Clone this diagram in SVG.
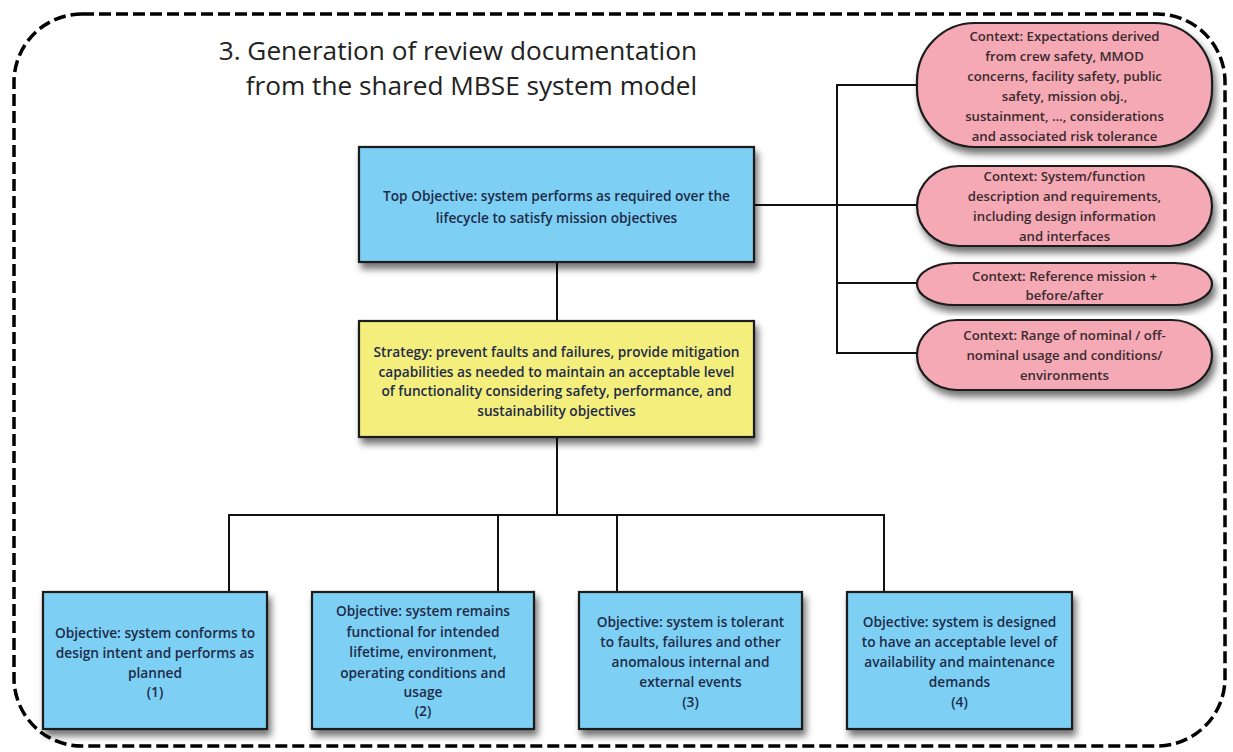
<svg xmlns="http://www.w3.org/2000/svg" width="1233" height="752" viewBox="0 0 1233 752">
<defs>
<filter id="sh" x="-10%" y="-10%" width="125%" height="135%">
<feDropShadow dx="3" dy="6" stdDeviation="3.5" flood-color="#000" flood-opacity="0.55"/>
</filter>
<style>
.blue{fill:#7dcff4;stroke:#1a1a1a;stroke-width:2.2;filter:url(#sh)}
.yel{fill:#f4ee7d;stroke:#1a1a1a;stroke-width:2.2;filter:url(#sh)}
.pink{fill:#f4a9b5;stroke:#1a1a1a;stroke-width:2.2;filter:url(#sh)}
.t{font-family:"Open Sans","Liberation Sans",sans-serif;font-size:13.7px;font-weight:600;text-anchor:middle;fill:#1e2c48}
.tp{font-family:"Open Sans","Liberation Sans",sans-serif;font-size:13.2px;font-weight:600;text-anchor:middle;fill:#3b2a2e}
.title{font-family:"Open Sans","Liberation Sans",sans-serif;font-size:26.2px;text-anchor:end;fill:#222}
.ln{fill:none;stroke:#111;stroke-width:2}
</style>
</defs>
<rect x="14" y="14" width="1211" height="732" rx="68" fill="#fff" stroke="#000" stroke-width="3.5" stroke-dasharray="12 5"/>
<g id="title">
<text class="title" x="697" y="60">3. Generation of review documentation</text>
<text class="title" x="697" y="95">from the shared MBSE system model</text>
</g>
<g id="connectors">
<path class="ln" d="M557 262V321"/>
<path class="ln" d="M557 437V515"/>
<path class="ln" d="M229 593V515H884V593"/>
<path class="ln" d="M498 515V593"/>
<path class="ln" d="M617 515V593"/>
<path class="ln" d="M754 205H918"/>
<path class="ln" d="M918 85H837V353H918"/>
<path class="ln" d="M837 283H918"/>
</g>
<g id="top-objective">
<rect class="blue" x="359" y="147" width="395" height="115"/>
<text class="t" x="556.5" y="201">Top Objective: system performs as required over the</text>
<text class="t" x="556.5" y="223">lifecycle to satisfy mission objectives</text>
</g>
<g id="strategy">
<rect class="yel" x="359" y="321" width="395" height="116"/>
<text class="t" x="556.5" y="357">Strategy: prevent faults and failures, provide mitigation</text>
<text class="t" x="556.5" y="377">capabilities as needed to maintain an acceptable level</text>
<text class="t" x="556.5" y="396">of functionality considering safety, performance, and</text>
<text class="t" x="556.5" y="416">sustainability objectives</text>
</g>
<g id="objective-1">
<rect class="blue" x="43" y="592" width="224" height="137"/>
<text class="t" x="155" y="638">Objective: system conforms to</text>
<text class="t" x="155" y="658">design intent and performs as</text>
<text class="t" x="155" y="678">planned</text>
<text class="t" x="155" y="697">(1)</text>
</g>
<g id="objective-2">
<rect class="blue" x="312" y="592" width="222" height="137"/>
<text class="t" x="423" y="616">Objective: system remains</text>
<text class="t" x="423" y="637">functional for intended</text>
<text class="t" x="423" y="657">lifetime, environment,</text>
<text class="t" x="423" y="678">operating conditions and</text>
<text class="t" x="423" y="697">usage</text>
<text class="t" x="423" y="716">(2)</text>
</g>
<g id="objective-3">
<rect class="blue" x="579" y="592" width="223" height="137"/>
<text class="t" x="690.5" y="627">Objective: system is tolerant</text>
<text class="t" x="690.5" y="647">to faults, failures and other</text>
<text class="t" x="690.5" y="667">anomalous internal and</text>
<text class="t" x="690.5" y="687">external events</text>
<text class="t" x="690.5" y="707">(3)</text>
</g>
<g id="objective-4">
<rect class="blue" x="847" y="592" width="225" height="137"/>
<text class="t" x="959.5" y="627">Objective: system is designed</text>
<text class="t" x="959.5" y="647">to have an acceptable level of</text>
<text class="t" x="959.5" y="667">availability and maintenance</text>
<text class="t" x="959.5" y="687">demands</text>
<text class="t" x="959.5" y="707">(4)</text>
</g>
<g id="context-1">
<rect class="pink" x="917" y="23" width="295" height="124" rx="58" ry="58"/>
<text class="tp" x="1064.5" y="41">Context: Expectations derived</text>
<text class="tp" x="1064.5" y="61">from crew safety, MMOD</text>
<text class="tp" x="1064.5" y="81">concerns, facility safety, public</text>
<text class="tp" x="1064.5" y="101">safety, mission obj.,</text>
<text class="tp" x="1064.5" y="121">sustainment, …, considerations</text>
<text class="tp" x="1064.5" y="141">and associated risk tolerance</text>
</g>
<g id="context-2">
<rect class="pink" x="917" y="166" width="295" height="80" rx="42" ry="40"/>
<text class="tp" x="1064.5" y="181">Context: System/function</text>
<text class="tp" x="1064.5" y="201">description and requirements,</text>
<text class="tp" x="1064.5" y="221">including design information</text>
<text class="tp" x="1064.5" y="241">and interfaces</text>
</g>
<g id="context-3">
<rect class="pink" x="917" y="263" width="295" height="42" rx="38" ry="21"/>
<text class="tp" x="1064.5" y="281">Context: Reference mission +</text>
<text class="tp" x="1064.5" y="300">before/after</text>
</g>
<g id="context-4">
<rect class="pink" x="917" y="320" width="295" height="70" rx="40" ry="35"/>
<text class="tp" x="1064.5" y="340">Context: Range of nominal / off-</text>
<text class="tp" x="1064.5" y="360">nominal usage and conditions/</text>
<text class="tp" x="1064.5" y="380">environments</text>
</g>
</svg>
